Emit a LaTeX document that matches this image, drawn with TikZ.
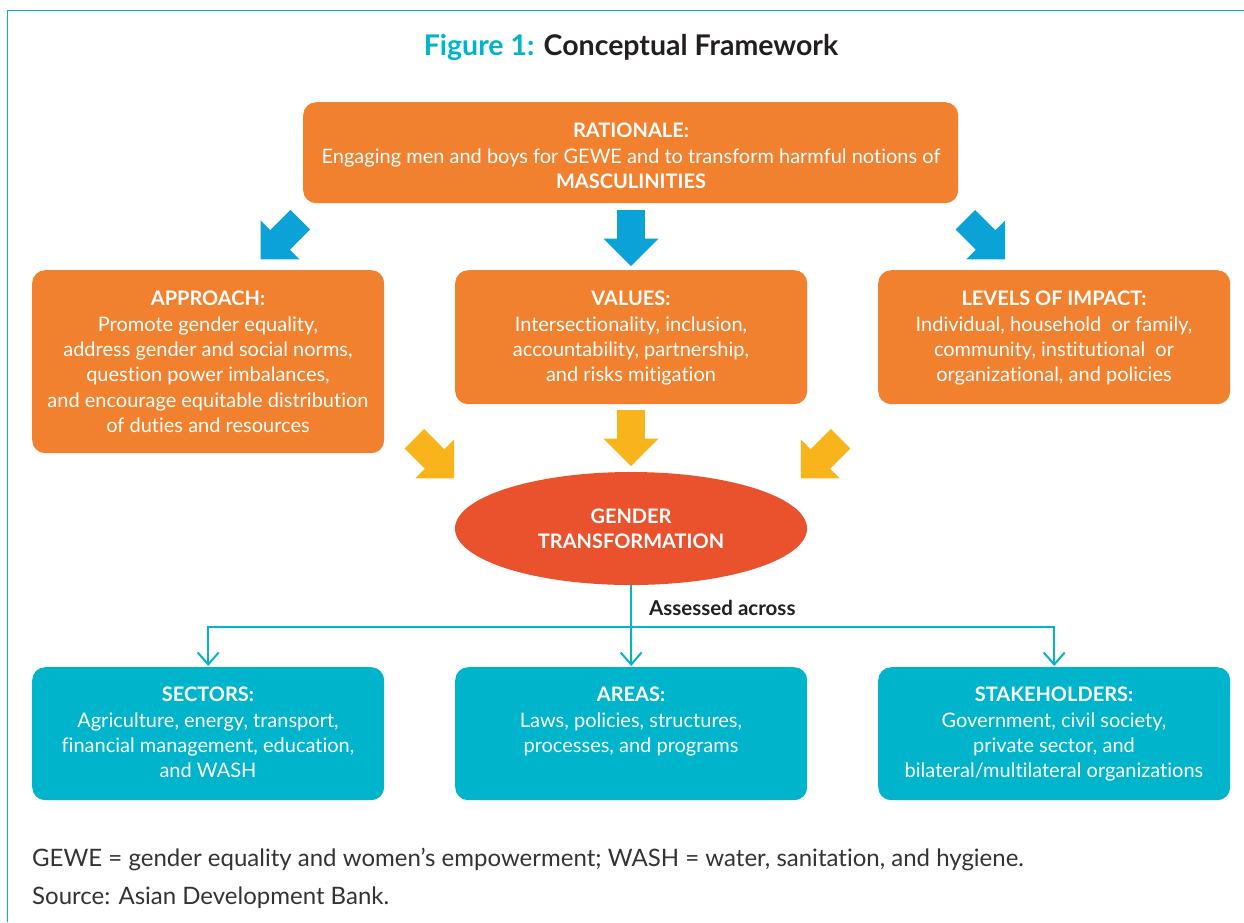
\documentclass[tikz,border=0pt]{standalone}
\usepackage{fontspec}
\setmainfont{Lato}[Ligatures=NoCommon]
\usetikzlibrary{shapes.geometric,arrows.meta}

\definecolor{teal}{HTML}{00B5CB}
\definecolor{orng}{HTML}{F2812F}
\definecolor{blu}{HTML}{0BA2D8}
\definecolor{yel}{HTML}{F9B41B}
\definecolor{red}{HTML}{E9522C}
\definecolor{ink}{HTML}{231F20}
\definecolor{foot}{HTML}{333333}

% block arrow pointing down from its tip at (0,0); rotated and moved into place
\newcommand{\blockarrow}[4]{%
  \fill[#4, shift={(#1,#2)}, rotate=#3]
    (0,0) -- (27.5,27.3) -- (13.8,27.3) -- (13.8,56) -- (-13.8,56)
    -- (-13.8,27.3) -- (-27.5,27.3) -- cycle;}

\tikzset{
  box/.style={rounded corners=13pt, draw=none, anchor=north west, inner sep=0pt},
  obox/.style={box, fill=orng},
  tbox/.style={box, fill=teal},
  boxtext/.style={anchor=north, inner sep=0pt, align=center, text=white,
    font=\fontsize{20}{25.3}\selectfont},
  conn/.style={draw=teal, line width=2pt,
    -{Straight Barb[length=12pt,width=21pt,line width=2pt]}},
  note/.style={anchor=west, inner sep=0pt, text=foot, font=\fontsize{24}{28}\selectfont},
}

\begin{document}
\begin{tikzpicture}[x=1pt,y=1pt]
\useasboundingbox (0,0) rectangle (1244,-922);

% frame
\draw[teal, line width=1.5pt] (1244,-10.7) -- (7.3,-10.7) -- (7.3,-922);

% heading
\node[font=\fontsize{28.5}{32}\selectfont\bfseries] (title) at (631,-47.5)
  {\textcolor{teal}{Figure 1:} \textcolor{ink}{Conceptual Framework}};

% rationale
\node[obox, minimum width=655pt, minimum height=101pt] (rat) at (303,-102) {};
\node[boxtext] (rat-t) at (631,-123)
  {\textbf{RATIONALE:}\\Engaging men and boys for GEWE and to transform harmful notions of\\\textbf{MASCULINITIES}};

% middle row
\node[obox, minimum width=352pt, minimum height=183pt] (app) at (32,-270) {};
\node[boxtext] (app-t) at (208,-291)
  {\textbf{APPROACH:}\\Promote gender equality,\\address gender and social norms,\\question power imbalances,\\and encourage equitable distribution\\of duties and resources};

\node[obox, minimum width=352pt, minimum height=134pt] (val) at (455,-270) {};
\node[boxtext] (val-t) at (631,-291)
  {\textbf{VALUES:}\\Intersectionality, inclusion,\\accountability, partnership,\\and risks mitigation};

\node[obox, minimum width=352pt, minimum height=134pt] (lev) at (878,-270) {};
\node[boxtext] (lev-t) at (1054,-291)
  {\textbf{LEVELS OF IMPACT:}\\Individual, household\ \ or family,\\community, institutional\ \ or\\organizational, and policies};

% blue arrows from the rationale
\blockarrow{260.7}{-259.3}{-45}{blu}
\blockarrow{631}{-266}{0}{blu}
\blockarrow{1005}{-259.3}{45}{blu}

% yellow arrows into the ellipse
\blockarrow{454}{-478.3}{45}{yel}
\blockarrow{631}{-466}{0}{yel}
\blockarrow{801}{-478.3}{-45}{yel}

% gender transformation
\node[ellipse, fill=red, minimum width=352pt, minimum height=113pt, inner sep=0pt,
  align=center, text=white, font=\fontsize{20}{25.3}\selectfont\bfseries]
  (gt) at (631,-528.5) {GENDER\\TRANSFORMATION};

% bottom row
\node[tbox, minimum width=352pt, minimum height=133pt] (sec) at (32,-667) {};
\node[boxtext] (sec-t) at (208,-687)
  {\textbf{SECTORS:}\\Agriculture, energy, transport,\\financial management, education,\\and WASH};

\node[tbox, minimum width=352pt, minimum height=133pt] (are) at (455,-667) {};
\node[boxtext] (are-t) at (631,-687)
  {\textbf{AREAS:}\\Laws, policies, structures,\\processes, and programs};

\node[tbox, minimum width=352pt, minimum height=133pt] (sta) at (878,-667) {};
\node[boxtext] (sta-t) at (1054,-687)
  {\textbf{STAKEHOLDERS:}\\Government, civil society,\\private sector, and\\bilateral/multilateral organizations};

% connectors
\coordinate (split) at (631,-627);
\draw[teal, line width=2pt] (gt.south) -- (split);
\draw[conn, shorten >=1pt] (split) -| (sec.north);
\draw[conn, shorten >=1pt] (split) -- (are.north);
\draw[conn, shorten >=1pt] (split) -| (sta.north);
\node[anchor=west, inner sep=0pt, text=ink, font=\fontsize{20.5}{24}\selectfont\bfseries]
  (assess) at (649,-607.5) {Assessed across};

% notes
\node[note] (gloss) at (32,-859.5) {GEWE = gender equality and women’s empowerment; WASH = water, sanitation, and hygiene.};
\node[note] (src) at (32,-898) {Source: Asian Development Bank.};
\end{tikzpicture}
\end{document}
